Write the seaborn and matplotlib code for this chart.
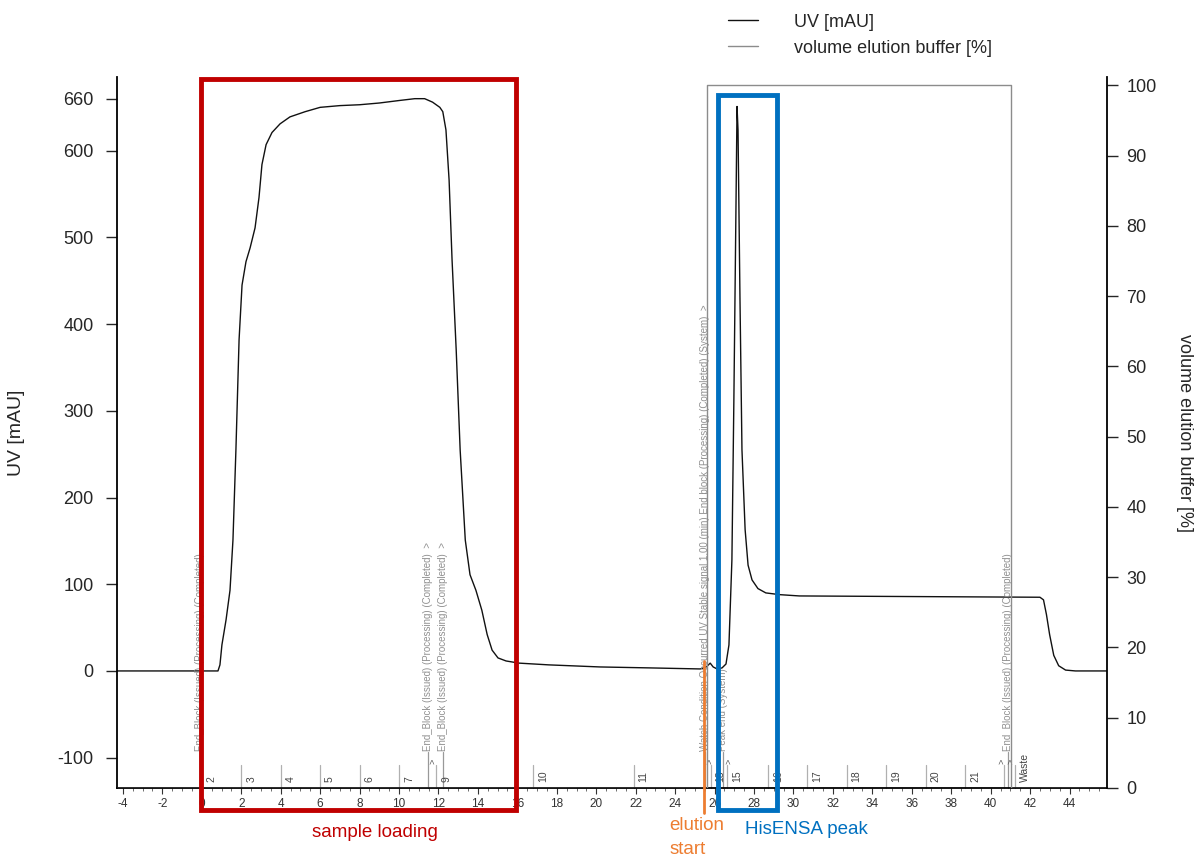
import matplotlib
matplotlib.use("Agg")
import matplotlib.pyplot as plt
import matplotlib.patches as patches
from matplotlib.ticker import MultipleLocator, FixedLocator
import seaborn as sns

# UV trace (volume in ml, absorbance in mAU)
uv_volume = [-4.3, 0.82, 0.92, 1.02, 1.23, 1.43, 1.58, 1.73, 1.89, 2.04, 2.24, 2.45,
             2.70, 2.90, 3.05, 3.26, 3.56, 3.97, 4.47, 5.24, 6.0, 7.0, 8.0, 9.0,
             10.05, 10.8, 11.3, 11.7, 12.07, 12.22, 12.38, 12.54, 12.69, 12.9, 13.1,
             13.36, 13.6, 13.9, 14.2, 14.47, 14.72, 15.02, 15.43, 16.1, 17.6, 20.2,
             22.74, 25.28, 25.58, 25.78, 25.93, 26.13, 26.38, 26.58, 26.73, 26.88,
             26.98, 27.09, 27.14, 27.19, 27.29, 27.39, 27.55, 27.7, 27.9, 28.2, 28.6,
             29.3, 30.3, 42.5, 42.68, 42.83, 42.99, 43.2, 43.45, 43.8, 44.3, 45.9]
uv_mau = [0, 0, 7, 30, 59, 93, 151, 255, 382, 445, 472, 488,
          511, 546, 584, 607, 621, 631, 639, 645, 650, 652, 653, 655,
          658, 660, 660, 656, 650, 645, 624, 566, 474, 370, 255,
          151, 111, 93, 70, 42, 24, 15, 11.5, 9, 7, 4.6,
          3.5, 2.3, 4.6, 9, 4.6, 2.3, 3.5, 8, 30, 128,
          313, 543, 651, 624, 428, 255, 163, 122, 105, 95, 90,
          88, 86.5, 85, 82, 65, 42, 18, 6, 1, 0, 0]

# elution buffer step (%)
buffer_volume = [-4.3, 25.6, 25.6, 41.05, 41.05, 45.9]
buffer_percent = [0, 0, 100, 100, 0, 0]

# fraction marks along the bottom
fraction_volume = [0.0, 2.0, 4.0, 6.0, 8.0, 10.0, 11.9, 16.8, 21.9, 25.8,
                   26.65, 28.7, 30.7, 32.7, 34.7, 36.7, 38.7, 40.7, 41.25]
fraction_labels = ["2", "3", "4", "5", "6", "7", "9", "10", "11", "13",
                   "15", "16", "17", "18", "19", "20", "21", "", "Waste"]

# run log events
event_volume = [-0.09, 11.47, 12.24, 25.53, 26.45, 40.9]
event_text = ["End_Block (Issued) (Processing) (Completed)",
              "End_Block (Issued) (Processing) (Completed)  >",
              "End_Block (Issued) (Processing) (Completed)  >",
              "Watch Condition Occurred UV Stable signal 1.00 (min) End block (Processing) (Completed) (System)  >",
              "Peak end (System)",
              "End_Block (Issued) (Processing) (Completed)"]
caret_volume = [11.7, 25.75, 26.7, 40.55, 41.0]

# highlighted regions
sample_loading = (-0.05, 15.95)
hisensa_peak = (26.2, 29.17)
elution_start = 25.48

sns.set_style("ticks")
plt.rcParams['font.family'] = ['Liberation Sans', 'DejaVu Sans']
plt.rcParams['axes.unicode_minus'] = False

fig = plt.figure(figsize=(12, 8.6), dpi=100)
ax = fig.add_axes([117 / 1200, 72 / 860, 990 / 1200, 711 / 860])
ax2 = ax.twinx()

sns.lineplot(x=uv_volume, y=uv_mau, ax=ax, color='#111111', linewidth=1.0,
             estimator=None, sort=False, label='UV [mAU]', legend=False)
sns.lineplot(x=buffer_volume, y=buffer_percent, ax=ax2, color='#8c8c8c', linewidth=1.0,
             estimator=None, sort=False, label='volume elution buffer [%]', legend=False)

ax.set_xlim(-4.3, 45.9)
ax.set_ylim(-135, 685)
ax2.set_ylim(0, 101.2)

ax.yaxis.set_major_locator(FixedLocator([-100, 0, 100, 200, 300, 400, 500, 600, 660]))
ax2.yaxis.set_major_locator(MultipleLocator(10))
ax.xaxis.set_major_locator(MultipleLocator(2))
ax.xaxis.set_minor_locator(MultipleLocator(0.5))

ax.tick_params(axis='y', labelsize=13, length=8, width=1, pad=9)
ax2.tick_params(axis='y', labelsize=13, length=8, width=1, pad=6)
ax.tick_params(axis='x', which='major', labelsize=8.5, length=4, width=0.8, pad=3, colors='#333333')
ax.tick_params(axis='x', which='minor', length=2, width=0.6, colors='#555555')

for a in (ax, ax2):
    a.spines['top'].set_visible(False)
ax.spines['right'].set_visible(False)
ax2.spines['left'].set_visible(False)
ax2.spines['bottom'].set_visible(False)
for s in ('left', 'bottom'):
    ax.spines[s].set_linewidth(1.3)
    ax.spines[s].set_color('black')
ax2.spines['right'].set_linewidth(1.3)
ax2.spines['right'].set_color('black')

ax.set_xlabel('')
ax.set_ylabel('UV [mAU]', fontsize=14)
ax.yaxis.set_label_coords(-0.093, 0.5)
ax2.set_ylabel('volume elution buffer [%]', fontsize=13, rotation=270, va='bottom')
ax2.yaxis.set_label_coords(1.07, 0.5)

# fraction marks and run log events
trans = ax.get_xaxis_transform()
for v, lab in zip(fraction_volume, fraction_labels):
    ax.plot([v, v], [0, 0.033], transform=trans, color='#b0b0b0', lw=0.9, clip_on=False)
    ax.text(v + 0.25, 0.008, lab, transform=trans, rotation=90, fontsize=7.5,
            color='#444444', ha='left', va='bottom')
for v, txt in zip(event_volume, event_text):
    ax.plot([v, v], [0, 0.05], transform=trans, color='#999999', lw=0.9, clip_on=False)
    ax.text(v, 0.052, txt, transform=trans, rotation=90, fontsize=7, color='#909090',
            ha='center', va='bottom')
for v in caret_volume:
    ax.text(v, 0.034, '>', transform=trans, rotation=90, fontsize=6.5, color='#555555',
            ha='center', va='bottom')

# highlight boxes and labels
ax2.add_patch(patches.Rectangle((sample_loading[0], -160), sample_loading[1] - sample_loading[0], 843,
                                transform=ax.transData, fill=False, edgecolor='#C00000',
                                linewidth=3.5, clip_on=False, zorder=10))
ax2.add_patch(patches.Rectangle((hisensa_peak[0], -160), hisensa_peak[1] - hisensa_peak[0], 824,
                                transform=ax.transData, fill=False, edgecolor='#0070C0',
                                linewidth=3.5, clip_on=False, zorder=10))
ax2.plot([elution_start, elution_start], [-164, 12], transform=ax.transData,
         color='#ED7D31', lw=2, clip_on=False, zorder=10)

ax.text(8.8, -186, 'sample loading', color='#C00000', fontsize=13.5, ha='center', va='center')
ax.text(23.7, -168, 'elution\nstart', color='#ED7D31', fontsize=13.5, ha='left', va='top',
        linespacing=1.55)
ax.text(27.55, -183, 'HisENSA peak', color='#0070C0', fontsize=13.5, ha='left', va='center')

h1, l1 = ax.get_legend_handles_labels()
h2, l2 = ax2.get_legend_handles_labels()
fig.legend(h1 + h2, l1 + l2, loc='upper left', bbox_to_anchor=(0.593, 1.003), frameon=False,
           fontsize=13, handlelength=1.65, handletextpad=2.0, labelspacing=0.5)

plt.savefig('out.png', dpi=100)
